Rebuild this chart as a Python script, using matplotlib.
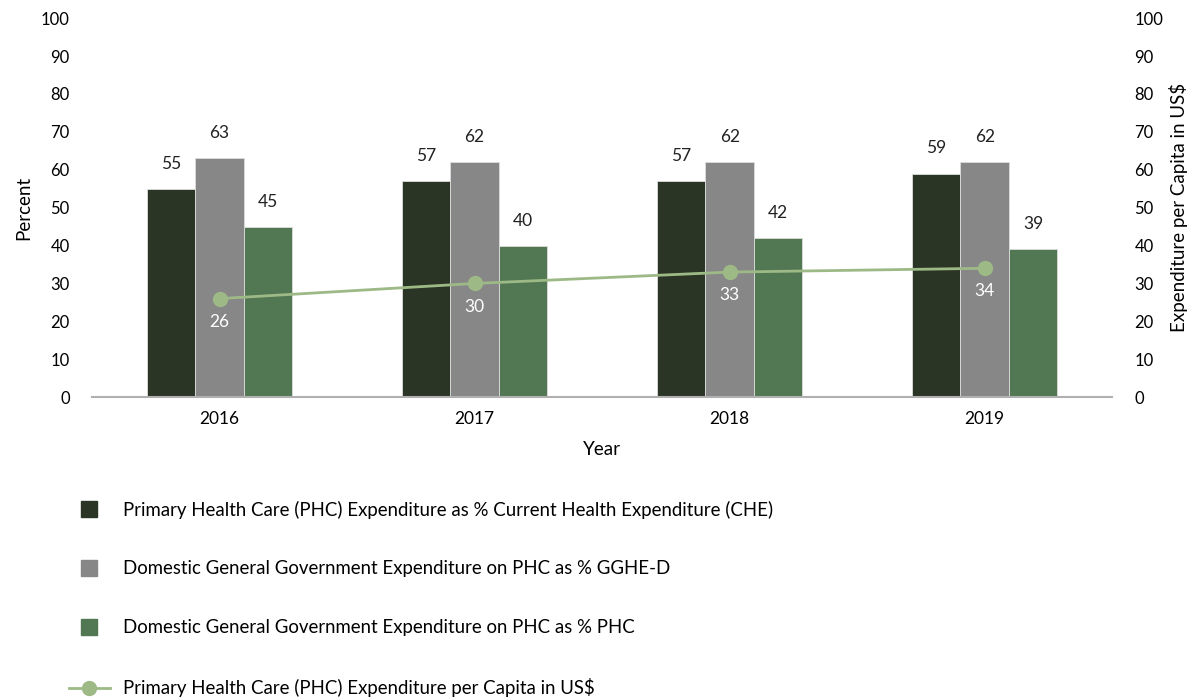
import numpy as np
import matplotlib
matplotlib.use("Agg")
import matplotlib.pyplot as plt
from matplotlib.lines import Line2D

plt.rcParams['font.family'] = ['Lato', 'DejaVu Sans']

years = ['2016', '2017', '2018', '2019']
phc_che = [55, 57, 57, 59]
gghe_phc = [63, 62, 62, 62]
dom_phc = [45, 40, 42, 39]
per_capita = [26, 30, 33, 34]

labels = ['Primary Health Care (PHC) Expenditure as % Current Health Expenditure (CHE)',
          'Domestic General Government Expenditure on PHC as % GGHE-D',
          'Domestic General Government Expenditure on PHC as % PHC',
          'Primary Health Care (PHC) Expenditure per Capita in US$']
colors = ['#2a3526', '#878787', '#527753']
line_color = '#9dba86'

fig = plt.figure(figsize=(11.87, 6.98), dpi=100)
ax = fig.add_axes([0.0775, 0.431, 0.8595, 0.543])
ax2 = ax.twinx()

x = np.arange(len(years))
w = 0.19
for i, (vals, c) in enumerate(zip([phc_che, gghe_phc, dom_phc], colors)):
    pos = x + (i - 1) * w
    ax.bar(pos, vals, w, color=c, edgecolor='#dddddd', linewidth=0.6, zorder=2)
    for p, v in zip(pos, vals):
        ax.text(p, v + 4.5, str(v), ha='center', va='bottom', fontsize=12.5, color='#222222')

ax2.plot(x, per_capita, '-o', color=line_color, lw=2, ms=10, zorder=5)
for p, v in zip(x, per_capita):
    ax2.text(p, v - 4, str(v), ha='center', va='top', fontsize=12.5, color='white')

for a in (ax, ax2):
    a.set_ylim(0, 100)
    a.set_yticks(range(0, 101, 10))
    a.tick_params(axis='y', length=0, labelsize=12, pad=16)
    for s in a.spines.values():
        s.set_visible(False)
ax.set_xlim(-0.5, 3.5)
ax.spines['bottom'].set_visible(True)
ax.spines['bottom'].set_color('#b0b0b0')
ax.spines['bottom'].set_linewidth(1.5)
ax.set_xticks(x)
ax.set_xticklabels(years)
ax.tick_params(axis='x', length=0, labelsize=12.5, pad=10)
ax.set_xlabel('Year', fontsize=13.5, labelpad=10)
ax.set_ylabel('Percent', fontsize=13.5, labelpad=6)
ax2.set_ylabel('Expenditure per Capita in US$', fontsize=13.5, labelpad=4)
ax2.set_zorder(ax.get_zorder() + 1)
ax2.patch.set_visible(False)

handles = [Line2D([], [], marker='s', ls='none', color=c, ms=11) for c in colors]
handles.append(Line2D([], [], marker='o', color=line_color, lw=2, ms=10))
fig.legend(handles, labels, loc='upper left', bbox_to_anchor=(0.044, 0.307),
           frameon=False, fontsize=13.4, labelspacing=2.25, handlelength=2.2,
           handletextpad=0.7)

fig.savefig('out.png', dpi=100)
